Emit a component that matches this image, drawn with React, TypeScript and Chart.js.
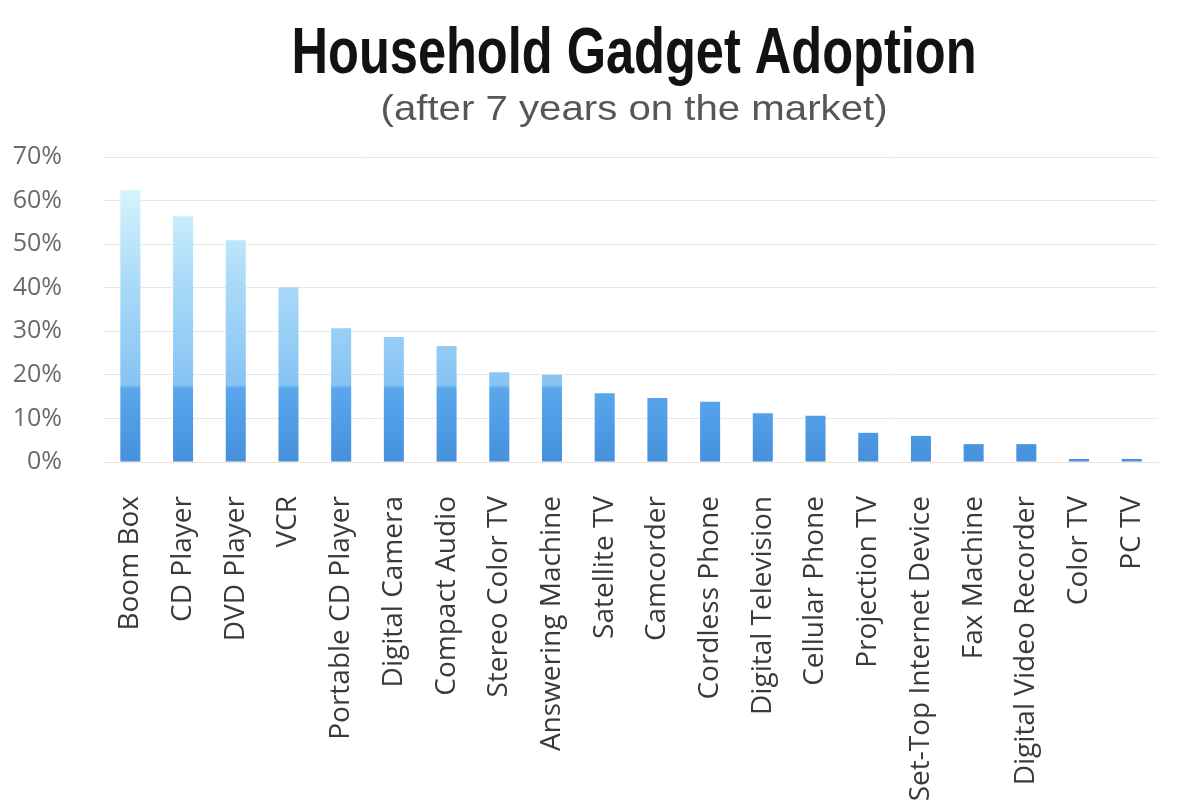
import React, { useEffect, useRef } from 'react';
import { Chart, registerables } from 'chart.js';

Chart.register(...registerables);

const titleText = 'Household Gadget Adoption';
const subtitleText = '(after 7 years on the market)';

const categories = [
  'Boom Box',
  'CD Player',
  'DVD Player',
  'VCR',
  'Portable CD Player',
  'Digital Camera',
  'Compact Audio',
  'Stereo Color TV',
  'Answering Machine',
  'Satellite TV',
  'Camcorder',
  'Cordless Phone',
  'Digital Television',
  'Cellular Phone',
  'Projection TV',
  'Set-Top Internet Device',
  'Fax Machine',
  'Digital Video Recorder',
  'Color TV',
  'PC TV',
];

const adoption = [62.4, 56.4, 50.9, 40.1, 30.7, 28.7, 26.6, 20.6, 20.0, 15.8, 14.7, 13.8, 11.2, 10.6, 6.7, 6.0, 4.1, 4.1, 0.7, 0.7];

const yTickValues = [0, 10, 20, 30, 40, 50, 60, 70];

// gradient stops expressed in axis value space: [value, colour]
const gradientStops: [number, string][] = [
  [0, '#4690dc'],
  [17, '#5ba8ee'],
  [17.6, '#86c3f3'],
  [40, '#a8d9f8'],
  [63, '#d6f4fd'],
];

// condensed title drawn as real canvas text, squeezed horizontally
const drawFitted = (
  ctx: CanvasRenderingContext2D,
  text: string,
  cx: number,
  baseline: number,
  font: string,
  color: string,
  width: number
) => {
  ctx.save();
  ctx.font = font;
  ctx.fillStyle = color;
  ctx.textAlign = 'center';
  ctx.textBaseline = 'alphabetic';
  const measured = ctx.measureText(text).width;
  const sx = width / measured;
  ctx.translate(cx, baseline);
  ctx.scale(sx, 1);
  ctx.fillText(text, 0, 0);
  ctx.restore();
};

const titlePlugin = {
  id: 'condensedTitle',
  afterDraw(chart: any) {
    const { ctx, chartArea } = chart;
    const cx = (chartArea.left + chartArea.right) / 2 + 3;
    drawFitted(ctx, titleText, cx, 73, "bold 64px 'Liberation Sans', Arial, sans-serif", '#121212', 685);
    drawFitted(ctx, subtitleText, cx, 120, "35px 'Liberation Sans', Arial, sans-serif", '#565656', 507);
  },
};

export default function App() {
  const canvasRef = useRef<HTMLCanvasElement | null>(null);

  useEffect(() => {
    const canvas = canvasRef.current;
    if (!canvas) return;

    const barFill = (ctx: any) => {
      const chart = ctx.chart;
      const { chartArea, scales } = chart;
      if (!chartArea || !scales.y) return gradientStops[0][1];
      const y = scales.y;
      const vMin = gradientStops[0][0];
      const vMax = gradientStops[gradientStops.length - 1][0];
      const y0 = y.getPixelForValue(vMin);
      const y1 = y.getPixelForValue(vMax);
      const g = chart.ctx.createLinearGradient(0, y0, 0, y1);
      gradientStops.forEach(([v, c]) => {
        g.addColorStop((v - vMin) / (vMax - vMin), c);
      });
      return g;
    };

    const chart = new Chart(canvas, {
      type: 'bar',
      data: {
        labels: categories,
        datasets: [
          {
            label: 'Adoption',
            data: adoption,
            backgroundColor: barFill,
            borderWidth: 0,
            barPercentage: 0.38,
            categoryPercentage: 1,
          },
        ],
      },
      options: {
        responsive: false,
        animation: false,
        layout: { padding: { left: 0, right: 26, top: 157, bottom: 0 } },
        plugins: {
          legend: { display: false },
          tooltip: { enabled: false },
          title: { display: false },
        },
        scales: {
          x: {
            grid: { display: false, drawTicks: false },
            border: { display: true, color: '#f2e2d8', width: 1 },
            ticks: {
              autoSkip: false,
              minRotation: 90,
              maxRotation: 90,
              padding: 34,
              color: '#3a3a3a',
              font: { family: "'Open Sans', sans-serif", size: 28 },
            },
            afterFit: (scale: any) => {
              scale.height = 342;
            },
          },
          y: {
            min: 0,
            max: 70,
            grid: { color: '#e8e8e8', lineWidth: 1, drawTicks: false },
            border: { display: false },
            afterBuildTicks: (scale: any) => {
              scale.ticks = yTickValues.map((v) => ({ value: v }));
            },
            ticks: {
              padding: 42,
              color: '#6a6a6a',
              font: { family: "'Open Sans', sans-serif", size: 25 },
              callback: (v: any) => `${v}%`,
            },
            afterFit: (scale: any) => {
              scale.width = 104;
            },
          },
        },
      },
      plugins: [titlePlugin],
    });

    return () => chart.destroy();
  }, []);

  return (
    <div style={{ position: 'fixed', left: 0, top: 0, width: 1200, height: 804, background: '#ffffff' }}>
      <canvas ref={canvasRef} width={1200} height={804} style={{ display: 'block', width: 1200, height: 804 }} />
    </div>
  );
}
